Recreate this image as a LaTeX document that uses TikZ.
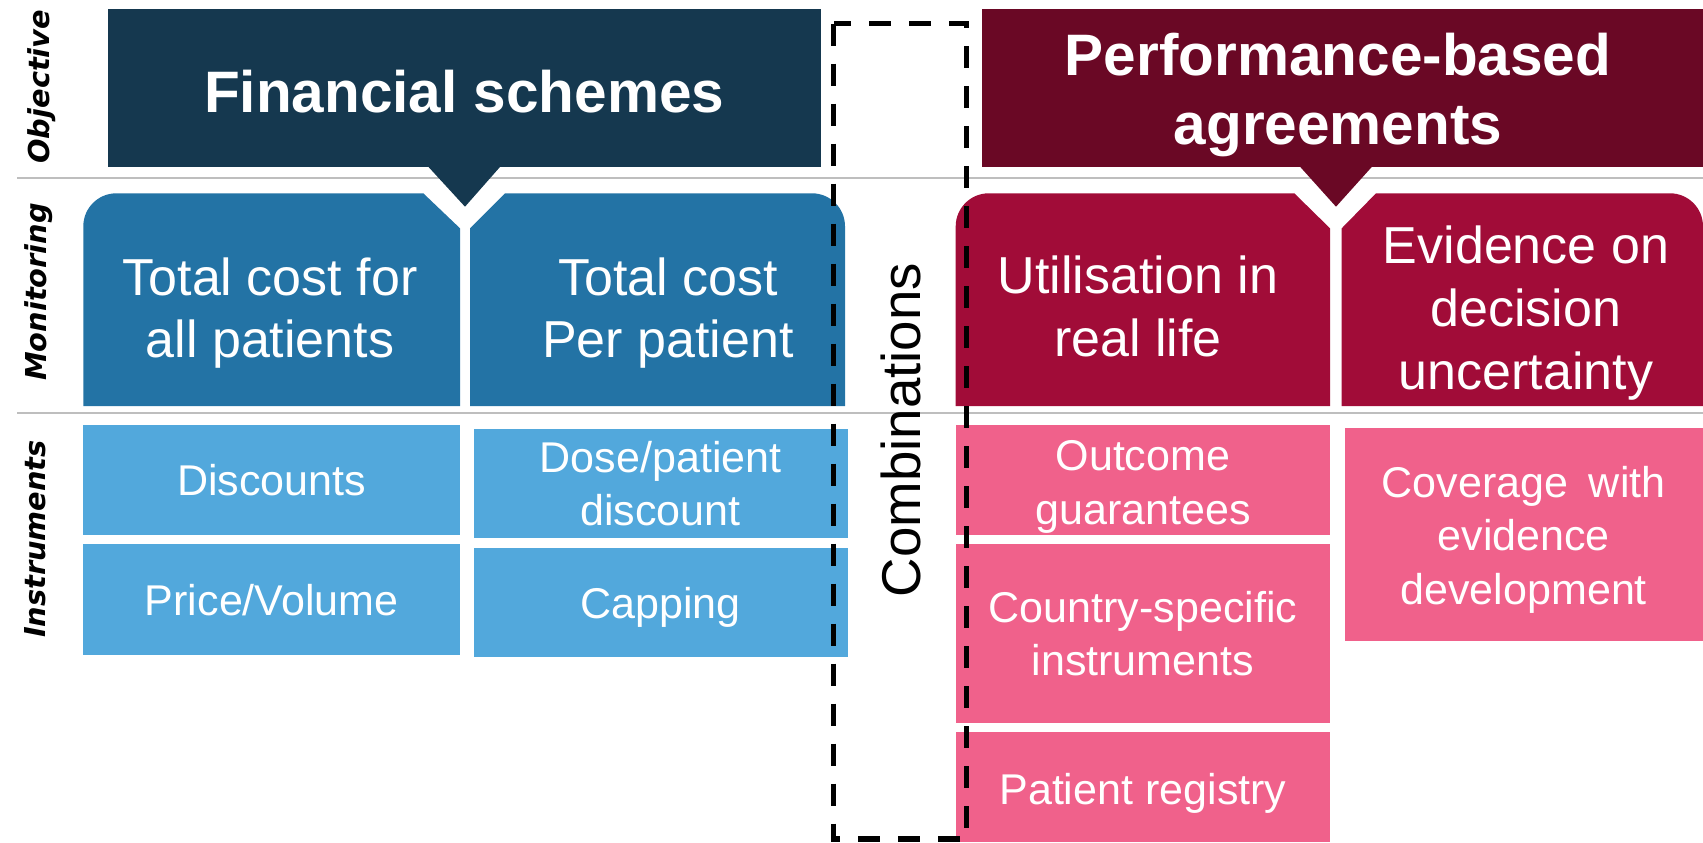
\documentclass[tikz,border=0pt]{standalone}
\usepackage{fontspec}
\setmainfont{Liberation Sans}
\newfontfamily\rowfont{DejaVu Sans}

\definecolor{finDark}{RGB}{21,56,79}
\definecolor{finMid}{RGB}{35,115,165}
\definecolor{finLight}{RGB}{82,168,220}
\definecolor{perfDark}{RGB}{106,8,37}
\definecolor{perfMid}{RGB}{161,12,56}
\definecolor{perfLight}{RGB}{240,97,139}
\definecolor{ruleGray}{RGB}{190,190,190}

\begin{document}
\begin{tikzpicture}[x=0.02cm, y=-0.02cm,
        header/.style={fill=#1, inner sep=0pt, minimum height=3.15cm},
        headtext/.style={text=white, inner sep=0pt, align=center, font=\fontsize{33.3}{39}\selectfont\bfseries},
        montext/.style={text=white, inner sep=0pt, align=center, font=\fontsize{29.6}{35.8}\selectfont},
        instbox/.style={fill=#1, inner sep=0pt},
        insttext/.style={text=white, inner sep=0pt, align=center, font=\fontsize{24.5}{30.5}\selectfont},
        rowlabel/.style={rotate=90, inner sep=0pt, font=\rowfont\fontsize{16.4}{20}\selectfont\bfseries\itshape},
        rule/.style={ruleGray, line width=1.1pt},
        combo/.style={black, line width=3pt, dash pattern=on 0.44cm off 0.36cm}
    ]
        \useasboundingbox (0,0) rectangle (1703,842);

        % Zeilen-Trenner
        \draw[rule] (17,178.3) -- (1703,178.3);
        \draw[rule] (17,413.3) -- (1703,413.3);

        % Zeilen
        \node[rowlabel] (lobj) at (42,86.7) {Objective};
        \node[rowlabel] (lmon) at (39,292) {Monitoring};
        \node[rowlabel] (lins) at (35,539) {Instruments};

        % Objective
        \node[header=finDark, minimum width=14.27cm] (fin) at (464.2,88) {};
        \node[header=perfDark, minimum width=14.43cm] (perf) at (1342.4,88) {};
        \fill[finDark] (426.7,165) -- (465,206.7) -- (501.7,165) -- cycle;
        \fill[perfDark] (1298.5,165) -- (1336,206.7) -- (1373.5,165) -- cycle;
        \node[headtext] (finT) at (464.2,92) {Financial schemes};
        \node[headtext] (perfT) at (1338,95) {Performance-based\\agreements};

        % Monitoring
        \fill[finMid] (83.3,406) -- (83.3,226.3) .. controls (83.3,208.1) and (98.1,193.3) .. (116.3,193.3) -- (423.3,193.3) -- (460,228.3) -- (460,406) -- cycle;
        \fill[finMid] (470,406) -- (470,228.3) -- (505,193.3) -- (812,193.3) .. controls (830.2,193.3) and (845,208.1) .. (845,226.3) -- (845,406) -- cycle;
        \fill[perfMid] (955.7,406) -- (955.7,226.3) .. controls (955.7,208.1) and (970.5,193.3) .. (988.7,193.3) -- (1294.3,193.3) -- (1330,228.3) -- (1330,406) -- cycle;
        \fill[perfMid] (1341.7,406) -- (1341.7,228.3) -- (1376,193.3) -- (1670,193.3) .. controls (1688.2,193.3) and (1703,208.1) .. (1703,226.3) -- (1703,406) -- cycle;

        \node[montext] (mall) at (270,313) {Total cost for\\all patients};
        \node[montext] (mper) at (668,313) {Total cost\\Per patient};
        \node[montext] (muse) at (1138,306) {Utilisation in\\real life};
        \node[montext] (mevi) at (1526,313) {Evidence on\\decision\\uncertainty};

        % Instruments
        \node[instbox=finLight, minimum width=7.53cm, minimum height=2.2cm] (disc) at (271.7,480) {};
        \node[instbox=finLight, minimum width=7.53cm, minimum height=2.21cm] (pvol) at (271.7,599.7) {};
        \node[instbox=finLight, minimum width=7.48cm, minimum height=2.18cm] (dose) at (660.6,483.5) {};
        \node[instbox=finLight, minimum width=7.48cm, minimum height=2.18cm] (capp) at (660.6,602.5) {};
        \node[instbox=perfLight, minimum width=7.49cm, minimum height=2.2cm] (outc) at (1142.9,480) {};
        \node[instbox=perfLight, minimum width=7.49cm, minimum height=3.57cm] (ctry) at (1142.9,633.5) {};
        \node[instbox=perfLight, minimum width=7.49cm, minimum height=2.21cm] (preg) at (1142.9,786.9) {};
        \node[instbox=perfLight, minimum width=7.17cm, minimum height=4.25cm] (cove) at (1523.7,534.5) {};

        \node[insttext] at (disc) {Discounts};
        \node[insttext] at (pvol) {Price/Volume};
        \node[insttext] at (dose) {Dose/patient\\discount};
        \node[insttext] at ([yshift=-0.1cm]capp.center) {Capping};
        \node[insttext] at ([yshift=-0.14cm]outc.center) {Outcome\\guarantees};
        \node[insttext] at (ctry) {Country-specific\\instruments};
        \node[insttext] at ([yshift=-0.12cm]preg.center) {Patient registry};
        \node[insttext] at ([yshift=-0.1cm]cove.center) {Coverage\hspace{0.2em} with\\evidence\\development};

        % Kombinationen
        \draw[combo] (833.7,23.7) rectangle (966.7,839);
        \node[rotate=90, inner sep=0pt, font=\fontsize{31.1}{36}\selectfont] (comb) at (901,430) {Combinations};
    \end{tikzpicture}
\end{document}
